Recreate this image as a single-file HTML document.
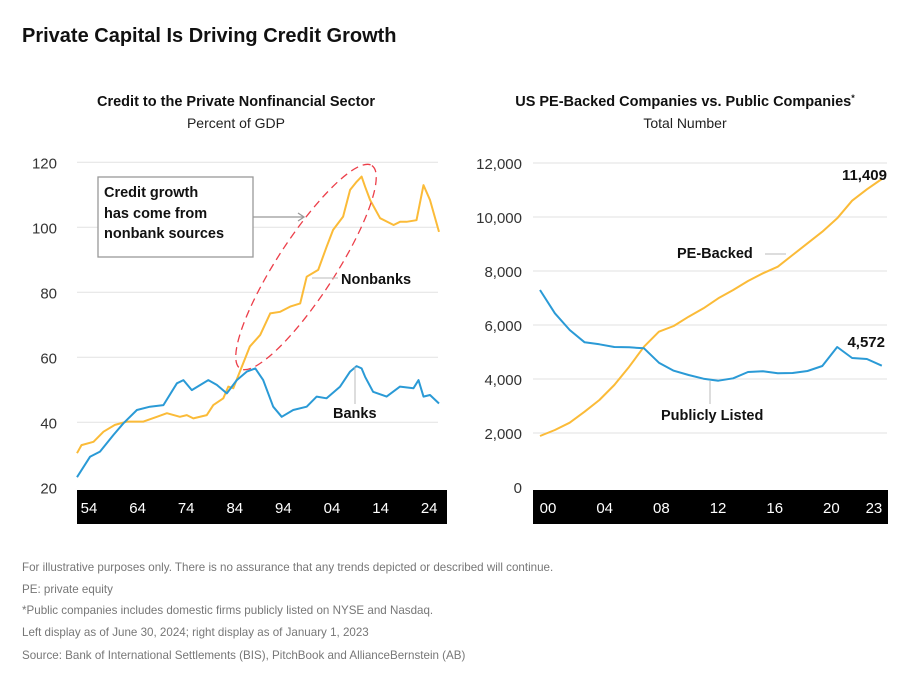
<!DOCTYPE html>
<html><head><meta charset="utf-8"><style>
body{margin:0;background:#fff;width:918px;height:675px;overflow:hidden;font-family:"Liberation Sans",sans-serif}
svg text{font-family:"Liberation Sans",sans-serif}
</style></head><body>
<svg id="c" width="918" height="675">
<text x="22" y="42" font-size="20" font-weight="bold" fill="#111">Private Capital Is Driving Credit Growth</text>
<text x="236" y="106" text-anchor="middle" font-size="14.5" font-weight="bold" fill="#111">Credit to the Private Nonfinancial Sector</text>
<text x="236" y="128" text-anchor="middle" font-size="14" fill="#222">Percent of GDP</text>
<text x="685" y="106" text-anchor="middle" font-size="14.5" font-weight="bold" fill="#111">US PE-Backed Companies vs. Public Companies<tspan font-size="9" dy="-5">*</tspan></text>
<text x="685" y="128" text-anchor="middle" font-size="14" fill="#222">Total Number</text>
<g id="L"></g><g id="R"></g>
<g font-size="11.6" fill="#777">
<text x="22" y="571">For illustrative purposes only. There is no assurance that any trends depicted or described will continue.</text>
<text x="22" y="593">PE: private equity</text>
<text x="22" y="614">*Public companies includes domestic firms publicly listed on NYSE and Nasdaq.</text>
<text x="22" y="636">Left display as of June 30, 2024; right display as of January 1, 2023</text>
<text x="22" y="659">Source: Bank of International Settlements (BIS), PitchBook and AllianceBernstein (AB)</text>
</g>
</svg>
<script>
const leftYTicks=[20,40,60,80,100,120];
const leftXLabels=["54","64","74","84","94","04","14","24"];
const nonbankYears=[1952,1952.9,1955.3,1957.3,1959.6,1962,1965.3,1968,1970,1972.6,1974,1975.3,1978,1979.3,1981.3,1982.3,1983.3,1985,1986.6,1988.7,1990.7,1992.7,1994.7,1996.7,1998,2000.3,2002,2003.3,2005.3,2006.7,2008,2009,2009.7,2010.7,2012.7,2015.4,2016.7,2018,2020,2021.4,2022.7,2024.5];
const nonbankValues=[30.5,33,34,37.1,39.2,40.2,40.2,41.7,42.8,41.7,42.2,41.2,42.2,45.3,47.4,51,50.5,57.1,63.3,66.9,73.5,74,75.6,76.6,84.8,86.9,94,99.2,103.3,111.5,114,115.6,112.5,108.4,102.8,100.7,101.7,101.7,102.2,113,108.4,98.6];
const bankYears=[1952,1954.6,1956.6,1959.3,1961.3,1964,1966.6,1969.3,1972,1973.3,1975,1978.3,1980,1982,1984,1986,1987.7,1989.3,1991.3,1993,1995.3,1998,2000,2002,2004.7,2006.7,2008,2009,2009.7,2011.3,2014,2016.7,2019.4,2020.4,2021.4,2022.7,2024.5];
const bankValues=[23.1,29.4,31,36.1,39.7,43.8,44.8,45.3,52,53,49.9,53,51.5,48.9,53,55.6,56.6,53,44.8,41.7,43.8,44.8,47.9,47.4,51,55.6,57.3,56.6,54,49.4,47.9,51,50.5,53,47.9,48.4,45.8];

const rightYTicks=[0,2000,4000,6000,8000,10000,12000];
const rightXLabels=["00","04","08","12","16","20","23"];
const rightYears=[2000,2001,2002,2003,2004,2005,2006,2007,2008,2009,2010,2011,2012,2013,2014,2015,2016,2017,2018,2019,2020,2021,2022,2023];
const peBacked=[1889,2111,2383,2790,3222,3778,4457,5198,5753,5963,6309,6617,6988,7296,7630,7914,8161,8593,9025,9457,9951,10605,11025,11409];
const publicListed=[7296,6432,5815,5358,5284,5185,5173,5136,4605,4309,4148,4012,3938,4025,4259,4284,4210,4222,4296,4481,5185,4778,4741,4494];

const NS="http://www.w3.org/2000/svg";
function mk(p,tag,a){const e=document.createElementNS(NS,tag);for(const k in a)e.setAttribute(k,a[k]);p.appendChild(e);return e;}
const L=document.getElementById('L'),R=document.getElementById('R');
const lx=y=>77+(y-1952)*4.993;
const ly=v=>422.3-(v-40)*65/20;
leftYTicks.forEach(t=>{
  if(t>20){const g=mk(L,'line',{x1:77,x2:438,y1:ly(t),y2:ly(t),stroke:'#e6e6e6','stroke-width':1.2});
  
  }
  const tx=mk(L,'text',{x:57,y:ly(t)+6,'text-anchor':'end','font-size':15,fill:'#333'});tx.textContent=t;
  
  
});
const lb=mk(L,'rect',{x:77,y:490,width:370,height:34,fill:'#000'});


leftXLabels.forEach((s,i)=>{const t=mk(L,'text',{x:89+i*48.6,y:513,'text-anchor':'middle','font-size':15,fill:'#fff'});t.textContent=s;
  
  });
function path(p,xs,vs,fx,fy,col,name){const d=xs.map((x,i)=>(i?'L':'M')+fx(x).toFixed(1)+','+fy(vs[i]).toFixed(1)).join('');
  const e=mk(p,'path',{d:d,fill:'none',stroke:col,'stroke-width':2,'stroke-linejoin':'round'});
  
  }
path(L,nonbankYears,nonbankValues,lx,ly,'#fbbb38','nonbanks-line');
path(L,bankYears,bankValues,lx,ly,'#2a9ad6','banks-line');
const el=mk(L,'ellipse',{cx:306,cy:267,rx:121,ry:29,transform:'rotate(-57 306 267)',fill:'none',stroke:'#ec3f4a','stroke-width':1.3,'stroke-dasharray':'8 5'});


const bx=mk(L,'rect',{x:98,y:177,width:155,height:80,fill:'#fff',stroke:'#999','stroke-width':1.3});


[['Credit growth',197],['has come from',218],['nonbank sources',238]].forEach(a=>{const t=mk(L,'text',{x:104,y:a[1],'font-size':14.5,'font-weight':'bold',fill:'#111'});t.textContent=a[0];
  
  });
const ar=mk(L,'path',{d:'M253,217H304M298,213L304,217L298,221',fill:'none',stroke:'#999','stroke-width':1.3});


mk(L,'line',{x1:312,x2:338,y1:278,y2:278,stroke:'#bbb'});
mk(L,'line',{x1:355,x2:355,y1:367,y2:404,stroke:'#bbb'});
let t=mk(L,'text',{x:341,y:284,'font-size':14.5,'font-weight':'bold',fill:'#111'});t.textContent='Nonbanks';


t=mk(L,'text',{x:333,y:418,'font-size':14.5,'font-weight':'bold',fill:'#111'});t.textContent='Banks';


const rx=y=>540+(y-2000)*14.86;
const ry=v=>487-v*54/2000;
rightYTicks.forEach(v=>{
  if(v>0){const g=mk(R,'line',{x1:533,x2:887,y1:ry(v),y2:ry(v),stroke:'#e6e6e6','stroke-width':1.2});
  
  }
  const tx=mk(R,'text',{x:522,y:ry(v)+6,'text-anchor':'end','font-size':15,fill:'#333'});tx.textContent=v.toLocaleString('en-US');
  
  
});
const rb=mk(R,'rect',{x:533,y:490,width:355,height:34,fill:'#000'});


rightXLabels.forEach((s,i)=>{const yr=2000+parseInt(s,10);const t=mk(R,'text',{x:548+(yr-2000)*14.17,y:513,'text-anchor':'middle','font-size':15,fill:'#fff'});t.textContent=s;
  
  });
path(R,rightYears,peBacked,rx,ry,'#fbbb38','pe-backed-line');
path(R,rightYears,publicListed,rx,ry,'#2a9ad6','publicly-listed-line');
mk(R,'line',{x1:765,x2:786,y1:254,y2:254,stroke:'#bbb'});
mk(R,'line',{x1:710,x2:710,y1:381,y2:404,stroke:'#bbb'});
t=mk(R,'text',{x:677,y:258,'font-size':14.5,'font-weight':'bold',fill:'#111'});t.textContent='PE-Backed';


t=mk(R,'text',{x:661,y:420,'font-size':14.5,'font-weight':'bold',fill:'#111'});t.textContent='Publicly Listed';


t=mk(R,'text',{x:887,y:180,'text-anchor':'end','font-size':15,'font-weight':'bold',fill:'#111'});t.textContent=peBacked[peBacked.length-1].toLocaleString('en-US');


t=mk(R,'text',{x:885,y:347,'text-anchor':'end','font-size':15,'font-weight':'bold',fill:'#111'});t.textContent='4,572';


</script>
</body></html>
